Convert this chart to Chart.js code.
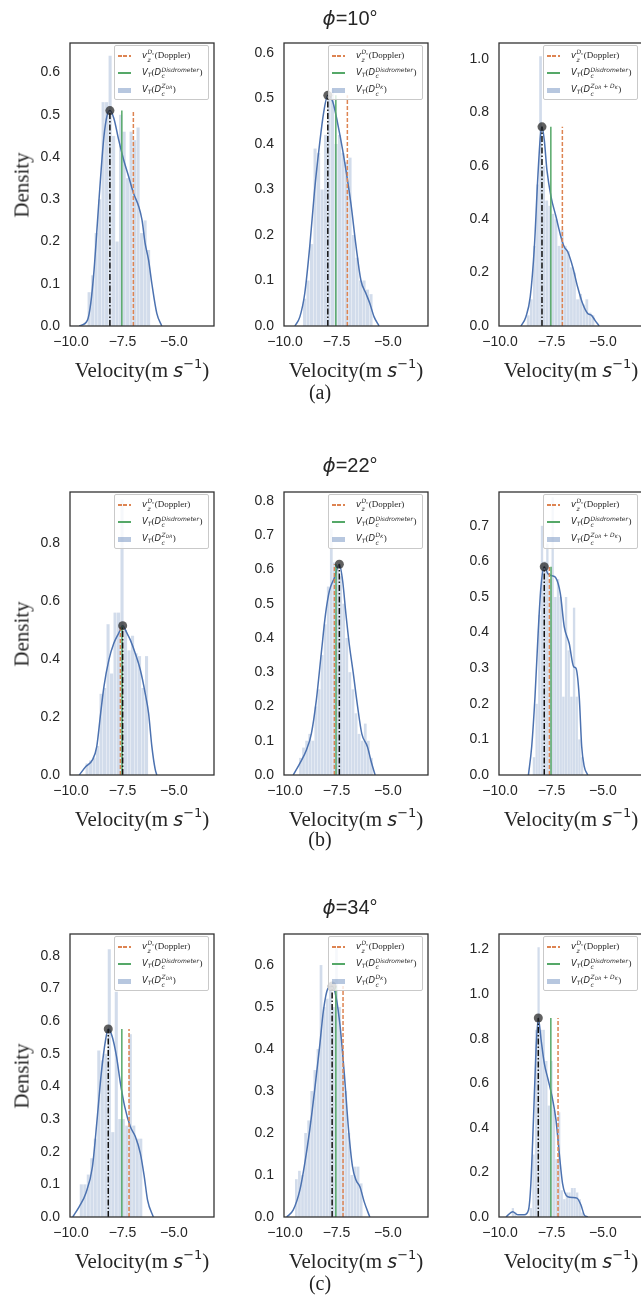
<!DOCTYPE html>
<html><head><meta charset="utf-8">
<script src="https://cdn.jsdelivr.net/npm/chart.js@4.4.1/dist/chart.umd.min.js"></script>
<style>
html,body{margin:0;padding:0;background:#fff;}
body{width:641px;height:1307px;position:relative;overflow:hidden;}
.pan{position:absolute;}
.ttl{position:absolute;font-family:'Liberation Sans',Arial,sans-serif;font-size:20px;color:#262626;transform:translate(-50%,-50%);white-space:nowrap;}
.ttl i{font-family:'DejaVu Sans',sans-serif;font-style:italic;}
.lab{position:absolute;font-family:'Liberation Serif','Times New Roman',serif;font-size:21px;color:#262626;transform:translate(-50%,-50%);white-space:nowrap;}
.lab .mi{font-family:'DejaVu Sans',sans-serif;font-style:italic;font-size:19px;}
.lab sup{font-size:13px;font-family:'DejaVu Sans',sans-serif;vertical-align:9px;line-height:0;}
.rot{transform:translate(-50%,-50%) rotate(-90deg);}
.cap{position:absolute;font-family:'Liberation Serif','Times New Roman',serif;font-size:20px;color:#222;transform:translate(-50%,-50%);}
.leg{position:absolute;width:95px;height:55px;box-sizing:border-box;border:1.6px solid #c9c9c9;border-radius:2px;background:rgba(255,255,255,0.8);font-family:'Liberation Serif','Times New Roman',serif;font-size:9px;color:#262626;}
.lrow{position:absolute;left:0;width:100%;height:16px;}
.sw{position:absolute;left:3px;width:13px;top:50%;}
.sw.or{height:1.5px;margin-top:-0.75px;background:repeating-linear-gradient(90deg,#DD8452 0 3.5px,transparent 3.5px 5.5px);}
.sw.gr{height:1.5px;margin-top:-0.75px;background:#55A868;}
.sw.bl{height:5px;margin-top:-2.5px;background:rgba(76,114,176,0.4);}
.lt{position:absolute;left:27px;top:50%;transform:translateY(-50%);white-space:nowrap;line-height:1;}
.mi{font-family:'DejaVu Sans',sans-serif;font-style:italic;}
.lt .mi{font-size:8.5px;}
.ss{display:inline-flex;flex-direction:column;vertical-align:middle;line-height:1;font-size:6px;margin:0 0.5px;}
.ss .mi{font-size:6px;}
.ss sub{font-size:4.5px;vertical-align:-1px;}
.lt sub.t{font-size:6px;vertical-align:-2px;}
</style></head><body>
<script>
// ---------- DATA ----------
const phiAngles = [10, 22, 34];
const rowLetters = ['(a)', '(b)', '(c)'];
const xTickVals = [-10.0, -7.5, -5.0];
const xMin = -10.05, xMax = -3.05;

// vertical reference lines per row
const dopplerV = [-6.97, -7.60, -7.18];   // v_z^{Dc}(Doppler)
const disdroV  = [-7.53, -7.52, -7.53];   // V_T(Dc^Disdrometer)

// KDE mode (x) and peak density (y) per panel [row][col]
const modeX = [[-8.11, -7.92, -7.96], [-7.49, -7.36, -7.85], [-8.19, -7.71, -8.14]];
const peakY = [[0.510, 0.507, 0.746], [0.515, 0.615, 0.585], [0.576, 0.550, 0.893]];

// y tick labels per panel
const yT_a1 = [0,0.1,0.2,0.3,0.4,0.5,0.6];
const yT_a2 = [0,0.1,0.2,0.3,0.4,0.5,0.6];
const yT_a3 = [0,0.2,0.4,0.6,0.8,1.0];
const yT_b1 = [0,0.2,0.4,0.6,0.8];
const yT_b2 = [0,0.1,0.2,0.3,0.4,0.5,0.6,0.7,0.8];
const yT_b3 = [0,0.1,0.2,0.3,0.4,0.5,0.6,0.7];
const yT_c1 = [0,0.1,0.2,0.3,0.4,0.5,0.6,0.7,0.8];
const yT_c2 = [0,0.1,0.2,0.3,0.4,0.5,0.6];
const yT_c3 = [0,0.2,0.4,0.6,0.8,1.0,1.2];
const yMax = [[0.67, 0.622, 1.06], [0.976, 0.826, 0.795], [0.867, 0.674, 1.27]];

// histograms: first bin centre, bin width, densities
const histX0_a1 = -9.12, binW_a1 = 0.17;
const hist_a1 = [0.08,0.12,0.22,0.30,0.53,0.53,0.64,0.45,0.20,0.50,0.46,0.35,0.46,0.44,0.47,0.22,0.25,0.18];
const histX0_a2 = -9.05, binW_a2 = 0.17;
const hist_a2 = [0.06,0.10,0.18,0.39,0.38,0.30,0.42,0.50,0.52,0.40,0.42,0.38,0.36,0.37,0.20,0.15,0.10,0.10,0.08,0.07];
const histX0_a3 = -8.63, binW_a3 = 0.15;
const hist_a3 = [0.04,0.10,0.30,0.53,1.01,0.60,0.47,0.45,0.42,0.40,0.30,0.36,0.30,0.28,0.22,0.20,0.10,0.12,0.08,0.10,0.05,0.04];
const histX0_b1 = -9.22, binW_b1 = 0.17;
const hist_b1 = [0.04,0.05,0.06,0.10,0.28,0.30,0.52,0.35,0.56,0.56,0.95,0.50,0.43,0.48,0.42,0.41,0.30,0.41];
const histX0_b2 = -9.25, binW_b2 = 0.15;
const hist_b2 = [0.05,0.08,0.10,0.12,0.10,0.20,0.25,0.35,0.44,0.55,0.72,0.62,0.60,0.58,0.50,0.40,0.30,0.25,0.18,0.12,0.10,0.15,0.10,0.05];
const histX0_b3 = -8.35, binW_b3 = 0.13;
const hist_b3 = [0.05,0.20,0.45,0.70,0.60,0.65,0.55,0.78,0.50,0.55,0.50,0.22,0.50,0.35,0.22,0.47,0.22,0.10,0.05];
const histX0_c1 = -9.50, binW_c1 = 0.17;
const hist_c1 = [0.10,0.10,0.13,0.18,0.24,0.51,0.48,0.50,0.82,0.26,0.69,0.30,0.30,0.28,0.56,0.28,0.24,0.24];
const histX0_c2 = -9.45, binW_c2 = 0.15;
const hist_c2 = [0.09,0.11,0.10,0.20,0.23,0.30,0.35,0.40,0.60,0.50,0.52,0.55,0.50,0.64,0.50,0.40,0.30,0.20,0.10,0.12,0.12,0.08];
const histX0_c3 = -9.375, binW_c3 = 0.125;
const hist_c3 = [0.04,0.02,0,0,0,0,0,0.04,0.28,0.84,1.21,0.84,0.84,0.70,0.50,0.70,0.48,0.26,0.47,0.12,0.08,0.11,0.11,0.13,0.13,0.11,0.08,0.02];

// KDE curves
const kdeX_a1 = [-9.60,-9.20,-9.04,-8.88,-8.72,-8.56,-8.40,-8.24,-8.11,-7.92,-7.68,-7.44,-7.20,-6.96,-6.71,-6.55,-6.40,-6.23,-6.07,-5.83,-5.59];
const kdeY_a1 = [0,0.014,0.054,0.133,0.243,0.354,0.449,0.50,0.51,0.492,0.44,0.393,0.354,0.314,0.283,0.251,0.196,0.156,0.10,0.03,0];
const kdeX_a2 = [-9.52,-9.28,-9.04,-8.80,-8.56,-8.32,-8.13,-7.92,-7.68,-7.44,-7.20,-6.80,-6.56,-6.31,-6.07,-5.88,-5.67,-5.43];
const kdeY_a2 = [0,0.02,0.072,0.174,0.30,0.40,0.467,0.507,0.493,0.445,0.387,0.27,0.18,0.10,0.072,0.05,0.02,0];
const kdeX_a3 = [-8.98,-8.74,-8.53,-8.33,-8.17,-8.04,-7.96,-7.85,-7.72,-7.52,-7.28,-7.04,-6.88,-6.71,-6.47,-6.23,-5.99,-5.74,-5.55,-5.39,-5.18];
const kdeY_a3 = [0,0.035,0.11,0.297,0.547,0.709,0.746,0.697,0.584,0.484,0.41,0.334,0.297,0.278,0.222,0.147,0.085,0.047,0.04,0.022,0];
const kdeX_b1 = [-9.60,-9.28,-8.96,-8.75,-8.56,-8.40,-8.16,-7.92,-7.68,-7.49,-7.28,-7.12,-6.88,-6.63,-6.39,-6.23,-6.07,-5.91,-5.83];
const kdeY_b1 = [0,0.029,0.052,0.098,0.213,0.305,0.397,0.454,0.489,0.515,0.489,0.466,0.42,0.362,0.28,0.213,0.098,0.02,0];
const kdeX_b2 = [-9.60,-9.28,-8.96,-8.72,-8.48,-8.24,-8.03,-7.84,-7.60,-7.36,-7.20,-7.04,-6.88,-6.68,-6.47,-6.27,-5.99,-5.83,-5.62];
const kdeY_b2 = [0,0.034,0.073,0.121,0.218,0.354,0.47,0.538,0.576,0.615,0.567,0.47,0.383,0.296,0.199,0.121,0.082,0.043,0];
const kdeX_b3 = [-8.62,-8.46,-8.30,-8.14,-8.01,-7.85,-7.68,-7.48,-7.28,-7.07,-6.88,-6.64,-6.42,-6.31,-6.15,-6.03,-5.91,-5.74];
const kdeY_b3 = [0,0.08,0.22,0.407,0.529,0.585,0.566,0.56,0.553,0.51,0.417,0.37,0.304,0.30,0.22,0.08,0.025,0];
const kdeX_c1 = [-9.92,-9.60,-9.28,-8.96,-8.72,-8.53,-8.32,-8.19,-8.00,-7.79,-7.60,-7.39,-7.12,-6.87,-6.63,-6.44,-6.28,-6.00];
const kdeY_c1 = [0,0.032,0.073,0.154,0.308,0.44,0.543,0.576,0.553,0.492,0.41,0.338,0.277,0.246,0.195,0.124,0.052,0];
const kdeX_c2 = [-9.92,-9.60,-9.28,-9.04,-8.80,-8.56,-8.32,-8.13,-7.92,-7.71,-7.52,-7.32,-7.12,-6.91,-6.72,-6.55,-6.36,-6.15,-5.88];
const kdeY_c2 = [0,0.017,0.064,0.128,0.207,0.302,0.405,0.493,0.544,0.55,0.524,0.453,0.342,0.207,0.12,0.088,0.072,0.036,0];
const kdeX_c3 = [-9.71,-9.38,-9.14,-8.82,-8.62,-8.50,-8.37,-8.25,-8.14,-8.01,-7.85,-7.66,-7.44,-7.28,-7.12,-6.96,-6.71,-6.47,-6.26,-6.07,-5.91,-5.74];
const kdeY_c3 = [0,0.024,0.01,0.01,0.03,0.15,0.45,0.75,0.893,0.80,0.69,0.616,0.526,0.436,0.286,0.15,0.091,0.088,0.085,0.055,0.01,0];

// legend labels for the histogram series (superscript of D_c), per column
const histSup = ['Z<sub>DR</sub>', 'D<sub>K</sub>', 'Z<sub>DR</sub> + D<sub>K</sub>'];

// ---------- LAYOUT ----------
const boxTops = [43, 492, 934], boxLefts = [70, 284, 499], boxW = 144, boxH = 283;
const padL = 45, padT = 10, padR = 10, padB = 30;

const panels = [
  {row:0,col:0,yT:yT_a1,h:hist_a1,h0:histX0_a1,hw:binW_a1,kx:kdeX_a1,ky:kdeY_a1},
  {row:0,col:1,yT:yT_a2,h:hist_a2,h0:histX0_a2,hw:binW_a2,kx:kdeX_a2,ky:kdeY_a2},
  {row:0,col:2,yT:yT_a3,h:hist_a3,h0:histX0_a3,hw:binW_a3,kx:kdeX_a3,ky:kdeY_a3},
  {row:1,col:0,yT:yT_b1,h:hist_b1,h0:histX0_b1,hw:binW_b1,kx:kdeX_b1,ky:kdeY_b1},
  {row:1,col:1,yT:yT_b2,h:hist_b2,h0:histX0_b2,hw:binW_b2,kx:kdeX_b2,ky:kdeY_b2},
  {row:1,col:2,yT:yT_b3,h:hist_b3,h0:histX0_b3,hw:binW_b3,kx:kdeX_b3,ky:kdeY_b3},
  {row:2,col:0,yT:yT_c1,h:hist_c1,h0:histX0_c1,hw:binW_c1,kx:kdeX_c1,ky:kdeY_c1},
  {row:2,col:1,yT:yT_c2,h:hist_c2,h0:histX0_c2,hw:binW_c2,kx:kdeX_c2,ky:kdeY_c2},
  {row:2,col:2,yT:yT_c3,h:hist_c3,h0:histX0_c3,hw:binW_c3,kx:kdeX_c3,ky:kdeY_c3}
];

const boxPlugin = {
  id:'box',
  afterDraw(chart){
    const {ctx, chartArea:a} = chart;
    ctx.save();
    ctx.strokeStyle = '#333333';
    ctx.lineWidth = 1.3;
    ctx.strokeRect(a.left, a.top, a.right - a.left, a.bottom - a.top);
    ctx.restore();
  }
};

const tickFont = {family:"'Liberation Sans', Arial, sans-serif", size:14};
const fmtX = v => (v < 0 ? '\u2212' : '') + Math.abs(v).toFixed(1);

function addEl(cls, html, x, y){
  const d = document.createElement('div');
  d.className = cls; d.innerHTML = html;
  d.style.left = x + 'px'; d.style.top = y + 'px';
  document.body.appendChild(d);
  return d;
}

function legendHTML(col){
  return '<div class="lrow" style="top:2px"><span class="sw or"></span><span class="lt"><span class="mi">v</span><span class="ss"><span><span class="mi">D</span><sub>c</sub></span><span class="mi">z</span></span>(Doppler)</span></div>' +
    '<div class="lrow" style="top:19px"><span class="sw gr"></span><span class="lt"><span class="mi">V</span><sub class="t mi">T</sub>(<span class="mi">D</span><span class="ss"><span class="mi">Disdrometer</span><span class="mi">c</span></span>)</span></div>' +
    '<div class="lrow" style="top:36px"><span class="sw bl"></span><span class="lt"><span class="mi">V</span><sub class="t mi">T</sub>(<span class="mi">D</span><span class="ss"><span class="mi">' + histSup[col] + '</span><span class="mi">c</span></span>)</span></div>';
}

panels.forEach(p => {
  const bl = boxLefts[p.col], bt = boxTops[p.row];
  const wrap = document.createElement('div');
  wrap.className = 'pan';
  wrap.style.left = (bl - padL) + 'px';
  wrap.style.top = (bt - padT) + 'px';
  const cv = document.createElement('canvas');
  const W = padL + boxW + padR, H = padT + boxH + padB;
  cv.width = W; cv.height = H;
  cv.style.width = W + 'px'; cv.style.height = H + 'px';
  wrap.appendChild(cv);
  document.body.appendChild(wrap);

  const histData = p.h.map((v, i) => ({x: +(p.h0 + i * p.hw).toFixed(4), y: v}));
  const kde = p.kx.map((x, i) => ({x: x, y: p.ky[i]}));
  const mx = modeX[p.row][p.col], pk = peakY[p.row][p.col];
  const dv = dopplerV[p.row], gv = disdroV[p.row];

  new Chart(cv, {
    type: 'bar',
    data: {datasets: [
      {type:'line', data:[{x:mx, y:pk}], showLine:false, pointRadius:4.5, pointBackgroundColor:'rgba(35,35,35,0.72)', pointBorderWidth:0, order:0},
      {type:'line', data:[{x:mx, y:0},{x:mx, y:pk}], borderColor:'#111111', borderWidth:1.5, borderDash:[6,2,1.5,2], pointRadius:0, order:1},
      {type:'line', data:[{x:gv, y:0},{x:gv, y:pk}], borderColor:'#55A868', borderWidth:1.5, pointRadius:0, order:2},
      {type:'line', data:[{x:dv, y:0},{x:dv, y:pk}], borderColor:'#DD8452', borderWidth:1.5, borderDash:[4,2], pointRadius:0, order:3},
      {type:'line', data:kde, borderColor:'#4C72B0', borderWidth:1.5, pointRadius:0, cubicInterpolationMode:'monotone', fill:false, order:4},
      {type:'bar', data:histData, backgroundColor:'rgba(76,114,176,0.25)', borderWidth:0, barPercentage:0.88, categoryPercentage:1, order:5}
    ]},
    options: {
      responsive:false, animation:false, events:[],
      layout:{padding:{top:padT, right:padR, left:0, bottom:0}},
      plugins:{legend:{display:false}, tooltip:{enabled:false}, title:{display:false}},
      scales:{
        x:{type:'linear', min:xMin, max:xMax, offset:false,
           grid:{display:false, drawTicks:false, offset:false}, border:{display:false},
           afterBuildTicks: s => { s.ticks = xTickVals.map(v => ({value:v})); },
           afterFit: s => { s.height = padB; s.paddingLeft = 0; s.paddingRight = 0; },
           ticks:{padding:8, color:'#262626', font:tickFont, maxRotation:0, autoSkip:false, callback: v => fmtX(v)}},
        y:{type:'linear', min:0, max:yMax[p.row][p.col],
           grid:{display:false, drawTicks:false}, border:{display:false},
           afterBuildTicks: s => { s.ticks = p.yT.map(v => ({value:v})); },
           afterFit: s => { s.width = padL; s.paddingTop = 0; s.paddingBottom = 0; },
           ticks:{padding:10, color:'#262626', font:tickFont, autoSkip:false, callback: v => v.toFixed(1)}}
      }
    },
    plugins:[boxPlugin]
  });

  addEl('leg', legendHTML(p.col), bl + 44, bt + 2);
  addEl('lab', 'Velocity(m <span class="mi">s</span><sup>\u22121</sup>)', bl + boxW / 2, bt + boxH + 44);
  if (p.col === 0) addEl('lab rot', 'Density', 22, bt + boxH / 2);
});

const titleY = [18, 465, 907], capY = [392, 839, 1283];
phiAngles.forEach((a, r) => {
  addEl('ttl', '<i>\u03d5</i>=' + a + '\u00b0', 350, titleY[r]);
  addEl('cap', rowLetters[r], 320, capY[r]);
});
</script>
</body></html>
